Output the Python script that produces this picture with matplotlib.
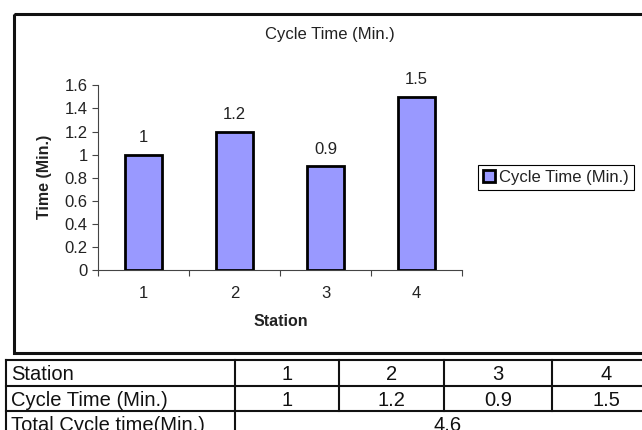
import matplotlib
matplotlib.use("Agg")
import matplotlib.pyplot as plt
from matplotlib.ticker import MultipleLocator, FormatStrFormatter, FixedLocator
from matplotlib.patches import Rectangle

plt.rcParams['font.family'] = ['Liberation Sans', 'DejaVu Sans']

# ---- data ----
stations = ['1', '2', '3', '4']
cycle_time = [1, 1.2, 0.9, 1.5]
total_cycle_time = 4.6
chart_title = 'Cycle Time (Min.)'
y_title = 'Time (Min.)'
x_title = 'Station'
row_labels = ['Station', 'Cycle Time (Min.)', 'Total Cycle time(Min.)']

W, H = 642, 430
fig = plt.figure(figsize=(W / 100, H / 100), dpi=100)

# overlay in pixel coordinates for the chart frame and the summary table
ov = fig.add_axes([0, 0, 1, 1], zorder=0)
ov.set_xlim(0, W)
ov.set_ylim(H, 0)
ov.axis('off')

# chart area border
ov.add_patch(Rectangle((14, 14), 640, 339, fill=False, edgecolor='#111111',
                       linewidth=2.2, clip_on=False))

# ---- bar chart ----
ax_l, ax_r, ax_b, ax_t = 98, 462, 270.3, 85.3
ax = fig.add_axes([ax_l / W, 1 - ax_b / H, (ax_r - ax_l) / W, (ax_b - ax_t) / H],
                  zorder=1)
ax.patch.set_alpha(0)
x = list(range(1, len(stations) + 1))
bars = ax.bar(x, cycle_time, width=0.4, color='#9999FF', edgecolor='black',
              linewidth=2, label=chart_title, zorder=3)
ax.bar_label(bars, labels=[f'{v:g}' for v in cycle_time], padding=7,
             fontsize=12, color='#222222')

ax.set_xlim(0.5, len(stations) + 0.5)
ax.set_ylim(0, 1.6)
ax.yaxis.set_major_locator(MultipleLocator(0.2))
ax.yaxis.set_major_formatter(FormatStrFormatter('%g'))

# category boundaries carry the tick marks, labels sit at the centres
ax.xaxis.set_major_locator(FixedLocator([i + 0.5 for i in range(0, len(stations) + 1)]))
ax.set_xticklabels([])
ax.set_xticks(x, minor=True)
ax.set_xticklabels(stations, minor=True)
ax.tick_params(axis='x', which='major', direction='out', length=4, width=0.8,
               color='#444444')
ax.tick_params(axis='x', which='minor', length=0, pad=11.5, labelsize=12,
               labelcolor='#222222')
ax.tick_params(axis='y', direction='out', length=4, width=0.8, color='#444444',
               pad=3.5, labelsize=12, labelcolor='#222222')

for side in ('top', 'right'):
    ax.spines[side].set_visible(False)
for side in ('left', 'bottom'):
    ax.spines[side].set_color('#444444')
    ax.spines[side].set_linewidth(0.8)

ax.set_title(chart_title, x=(329.5 - ax_l) / (ax_r - ax_l), pad=33, fontsize=12,
             color='#222222')
ax.set_xlabel(x_title, fontweight='bold', fontsize=11.5, color='#222222')
ax.xaxis.set_label_coords((280.4 - ax_l) / (ax_r - ax_l), (ax_b - 314.5) / (ax_b - ax_t))
ax.set_ylabel(y_title, fontweight='bold', fontsize=11.5, color='#222222')
ax.yaxis.set_label_coords((52.5 - ax_l) / (ax_r - ax_l), (ax_b - 177) / (ax_b - ax_t))

leg = ax.legend(loc='center left', bbox_to_anchor=(478 / W, 1 - 177.5 / H),
                bbox_transform=fig.transFigure, fontsize=12, frameon=True,
                fancybox=False, framealpha=1, edgecolor='black',
                borderaxespad=0, borderpad=0.3, handlelength=0.72,
                handleheight=0.72, handletextpad=0.25)
leg.get_frame().set_linewidth(0.8)
for t in leg.get_texts():
    t.set_color('#222222')

# ---- summary table ----
col_edges = [6, 235, 339, 444, 552, 660]
row_edges = [360, 385.5, 411, 436.5]
lw = 1.5
for y in row_edges:
    ov.plot([col_edges[0], col_edges[-1]], [y, y], color='#111111', lw=lw,
            solid_capstyle='projecting', clip_on=False)
for i, xe in enumerate(col_edges):
    # the total row merges the value columns
    bottom = row_edges[-1] if i in (0, 1, len(col_edges) - 1) else row_edges[2]
    ov.plot([xe, xe], [row_edges[0], bottom], color='#111111', lw=lw,
            solid_capstyle='projecting', clip_on=False)

table_rows = [stations, [f'{v:g}' for v in cycle_time]]
fs = 14.5
for r, label in enumerate(row_labels):
    yb = (row_edges[r] + row_edges[r + 1]) / 2 + 7.3
    ov.text(11, yb, label, fontsize=fs, ha='left', va='baseline', color='#111111')
    if r < len(table_rows):
        for c, val in enumerate(table_rows[r]):
            xc = (col_edges[c + 1] + col_edges[c + 2]) / 2
            ov.text(xc, yb, val, fontsize=fs, ha='center', va='baseline',
                    color='#111111')
    else:
        xc = (col_edges[1] + col_edges[-1]) / 2
        ov.text(xc, yb, f'{total_cycle_time:g}', fontsize=fs, ha='center',
                va='baseline', color='#111111')

fig.savefig('out.png', dpi=100)
